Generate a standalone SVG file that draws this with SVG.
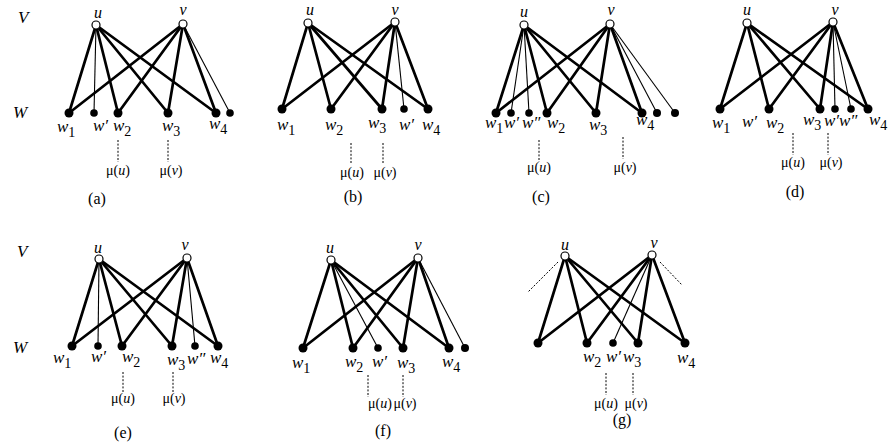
<svg xmlns="http://www.w3.org/2000/svg" width="888" height="443" viewBox="0 0 888 443" font-family="Liberation Serif, serif">
<style>
text{fill:#000}
.it{font-style:italic;font-size:17px}
.lbl{font-style:italic;font-size:16px;text-anchor:middle}
.sub{font-style:normal;font-size:14px}
.mu{font-size:14px;text-anchor:middle}
.mu tspan{font-style:italic}
.cap{font-size:16px;text-anchor:middle}
.tk{stroke:#000;stroke-width:2.7;stroke-linecap:round}
.tn{stroke:#000;stroke-width:1.1}
.ds{stroke:#000;stroke-width:1;stroke-dasharray:2 1.6}
.o{fill:#fff;stroke:#000;stroke-width:1.2}
.f{fill:#000}
</style>
<rect width="888" height="443" fill="#fff"/>

<text class="it" x="18" y="23">V</text>
<text class="it" x="13" y="118">W</text>
<text class="it" x="17" y="257">V</text>
<text class="it" x="13" y="353">W</text>

<!-- (a) -->
<g id="panel-a">
<g id="a-edges">
<line class="tk" x1="96" y1="25" x2="69" y2="113"/>
<line class="tn" x1="96" y1="25" x2="94" y2="113"/>
<line class="tk" x1="96" y1="25" x2="118" y2="113"/>
<line class="tk" x1="96" y1="25" x2="168" y2="113"/>
<line class="tk" x1="96" y1="25" x2="216" y2="113"/>
<line class="tk" x1="183" y1="24" x2="69" y2="113"/>
<line class="tk" x1="183" y1="24" x2="118" y2="113"/>
<line class="tk" x1="183" y1="24" x2="168" y2="113"/>
<line class="tk" x1="183" y1="24" x2="216" y2="113"/>
<line class="tn" x1="183" y1="24" x2="230" y2="113"/>
<line class="ds" x1="118" y1="140" x2="118" y2="162"/>
<line class="ds" x1="168" y1="140" x2="168" y2="162"/>
</g>
<g id="a-u"><circle class="o" cx="96" cy="25" r="4"/><text class="lbl" x="98" y="18">u</text></g>
<g id="a-v"><circle class="o" cx="183" cy="24" r="4"/><text class="lbl" x="183" y="15">v</text></g>
<g id="a-w1"><circle class="f" cx="69" cy="113" r="4.5"/><text class="it" x="57" y="132">w<tspan class="sub" dy="5">1</tspan></text></g>
<g id="a-wp"><circle class="f" cx="94" cy="113" r="3.8"/><text class="it" x="93" y="131">w′</text></g>
<g id="a-w2"><circle class="f" cx="118" cy="113" r="4.5"/><text class="it" x="113" y="131">w<tspan class="sub" dy="5">2</tspan></text></g>
<g id="a-w3"><circle class="f" cx="168" cy="113" r="4.5"/><text class="it" x="162" y="131">w<tspan class="sub" dy="5">3</tspan></text></g>
<g id="a-w4"><circle class="f" cx="216" cy="113" r="4.5"/><text class="it" x="209" y="129">w<tspan class="sub" dy="5">4</tspan></text></g>
<g id="a-x"><circle class="f" cx="230" cy="113" r="3.8"/></g>
<text class="mu" x="118" y="175">μ(<tspan>u</tspan>)</text>
<text class="mu" x="171" y="175">μ(<tspan>v</tspan>)</text>
<text class="cap" x="97" y="204">(a)</text>
</g>

<!-- (b) -->
<g id="panel-b">
<g id="b-edges">
<line class="tk" x1="308" y1="23" x2="282" y2="109"/>
<line class="tk" x1="308" y1="23" x2="331" y2="109"/>
<line class="tk" x1="308" y1="23" x2="382" y2="109"/>
<line class="tk" x1="308" y1="23" x2="428" y2="109"/>
<line class="tk" x1="395" y1="22" x2="282" y2="109"/>
<line class="tk" x1="395" y1="22" x2="331" y2="109"/>
<line class="tk" x1="395" y1="22" x2="382" y2="109"/>
<line class="tn" x1="395" y1="22" x2="404" y2="109"/>
<line class="tk" x1="395" y1="22" x2="428" y2="109"/>
<line class="ds" x1="351" y1="143" x2="351" y2="163"/>
<line class="ds" x1="383" y1="143" x2="383" y2="163"/>
</g>
<g id="b-u"><circle class="o" cx="308" cy="23" r="4"/><text class="lbl" x="310" y="15">u</text></g>
<g id="b-v"><circle class="o" cx="395" cy="22" r="4"/><text class="lbl" x="395" y="15">v</text></g>
<g id="b-w1"><circle class="f" cx="282" cy="109" r="4.5"/><text class="it" x="277" y="130">w<tspan class="sub" dy="5">1</tspan></text></g>
<g id="b-w2"><circle class="f" cx="331" cy="109" r="4.5"/><text class="it" x="325" y="130">w<tspan class="sub" dy="5">2</tspan></text></g>
<g id="b-w3"><circle class="f" cx="382" cy="109" r="4.5"/><text class="it" x="368" y="128">w<tspan class="sub" dy="5">3</tspan></text></g>
<g id="b-wp"><circle class="f" cx="404" cy="109" r="3.8"/><text class="it" x="399" y="130">w′</text></g>
<g id="b-w4"><circle class="f" cx="428" cy="109" r="4.5"/><text class="it" x="422" y="130">w<tspan class="sub" dy="5">4</tspan></text></g>
<text class="mu" x="352" y="177">μ(<tspan>u</tspan>)</text>
<text class="mu" x="385" y="177">μ(<tspan>v</tspan>)</text>
<text class="cap" x="353" y="202">(b)</text>
</g>

<!-- (c) -->
<g id="panel-c">
<g id="c-edges">
<line class="tk" x1="524" y1="25" x2="496" y2="113"/>
<line class="tn" x1="524" y1="25" x2="511" y2="113"/>
<line class="tn" x1="524" y1="25" x2="529" y2="113"/>
<line class="tk" x1="524" y1="25" x2="547" y2="113"/>
<line class="tk" x1="524" y1="25" x2="596" y2="113"/>
<line class="tk" x1="524" y1="25" x2="642" y2="113"/>
<line class="tk" x1="610" y1="24" x2="496" y2="113"/>
<line class="tk" x1="610" y1="24" x2="547" y2="113"/>
<line class="tk" x1="610" y1="24" x2="596" y2="113"/>
<line class="tk" x1="610" y1="24" x2="642" y2="113"/>
<line class="tn" x1="610" y1="24" x2="657" y2="113"/>
<line class="tn" x1="610" y1="24" x2="675" y2="113"/>
<line class="ds" x1="539" y1="140" x2="539" y2="162"/>
<line class="ds" x1="623" y1="137" x2="623" y2="159"/>
</g>
<g id="c-u"><circle class="o" cx="524" cy="25" r="4"/><text class="lbl" x="524" y="17">u</text></g>
<g id="c-v"><circle class="o" cx="610" cy="24" r="4"/><text class="lbl" x="611" y="15">v</text></g>
<g id="c-w1"><circle class="f" cx="496" cy="113" r="4.5"/><text class="it" x="485" y="128">w<tspan class="sub" dy="5">1</tspan></text></g>
<g id="c-wp"><circle class="f" cx="511" cy="113" r="3.8"/><text class="it" x="504" y="128">w′</text></g>
<g id="c-wpp"><circle class="f" cx="529" cy="113" r="3.8"/><text class="it" x="522" y="128">w″</text></g>
<g id="c-w2"><circle class="f" cx="547" cy="113" r="4.5"/><text class="it" x="547" y="128">w<tspan class="sub" dy="5">2</tspan></text></g>
<g id="c-w3"><circle class="f" cx="596" cy="113" r="4.5"/><text class="it" x="589" y="130">w<tspan class="sub" dy="5">3</tspan></text></g>
<g id="c-w4"><circle class="f" cx="642" cy="113" r="4.5"/><text class="it" x="636" y="125">w<tspan class="sub" dy="5">4</tspan></text></g>
<g id="c-x1"><circle class="f" cx="657" cy="113" r="4"/></g>
<g id="c-x2"><circle class="f" cx="675" cy="113" r="4"/></g>
<text class="mu" x="539" y="172">μ(<tspan>u</tspan>)</text>
<text class="mu" x="625" y="172">μ(<tspan>v</tspan>)</text>
<text class="cap" x="541" y="202">(c)</text>
</g>

<!-- (d) -->
<g id="panel-d">
<g id="d-edges">
<line class="tk" x1="747" y1="23" x2="720" y2="109"/>
<line class="tk" x1="747" y1="23" x2="769" y2="109"/>
<line class="tk" x1="747" y1="23" x2="820" y2="109"/>
<line class="tk" x1="747" y1="23" x2="868" y2="109"/>
<line class="tk" x1="833" y1="22" x2="720" y2="109"/>
<line class="tk" x1="833" y1="22" x2="769" y2="109"/>
<line class="tk" x1="833" y1="22" x2="820" y2="109"/>
<line class="tn" x1="833" y1="22" x2="835" y2="109"/>
<line class="tn" x1="833" y1="22" x2="851" y2="109"/>
<line class="tk" x1="833" y1="22" x2="868" y2="109"/>
<line class="ds" x1="793" y1="133" x2="793" y2="155"/>
<line class="ds" x1="828" y1="133" x2="828" y2="155"/>
</g>
<g id="d-u"><circle class="o" cx="747" cy="23" r="4"/><text class="lbl" x="747" y="15">u</text></g>
<g id="d-v"><circle class="o" cx="833" cy="22" r="4"/><text class="lbl" x="835" y="15">v</text></g>
<g id="d-w1"><circle class="f" cx="720" cy="109" r="4.5"/><text class="it" x="712" y="128">w<tspan class="sub" dy="5">1</tspan></text></g>
<text class="it" x="742" y="127">w′</text>
<g id="d-w2"><circle class="f" cx="769" cy="109" r="4.5"/><text class="it" x="766" y="128">w<tspan class="sub" dy="5">2</tspan></text></g>
<g id="d-w3"><circle class="f" cx="820" cy="109" r="4.5"/><text class="it" x="803" y="125">w<tspan class="sub" dy="5">3</tspan></text></g>
<g id="d-wp"><circle class="f" cx="835" cy="109" r="3.8"/><text class="it" x="824" y="126">w′</text></g>
<g id="d-wpp"><circle class="f" cx="851" cy="109" r="3.8"/><text class="it" x="839" y="126">w″</text></g>
<g id="d-w4"><circle class="f" cx="868" cy="109" r="4.5"/><text class="it" x="869" y="125">w<tspan class="sub" dy="5">4</tspan></text></g>
<text class="mu" x="793" y="167">μ(<tspan>u</tspan>)</text>
<text class="mu" x="831" y="167">μ(<tspan>v</tspan>)</text>
<text class="cap" x="795" y="197">(d)</text>
</g>

<!-- (e) -->
<g id="panel-e">
<g id="e-edges">
<line class="tk" x1="99" y1="259" x2="72" y2="346"/>
<line class="tn" x1="99" y1="259" x2="98" y2="346"/>
<line class="tk" x1="99" y1="259" x2="122" y2="346"/>
<line class="tk" x1="99" y1="259" x2="172" y2="346"/>
<line class="tk" x1="99" y1="259" x2="218" y2="346"/>
<line class="tk" x1="187" y1="258" x2="72" y2="346"/>
<line class="tk" x1="187" y1="258" x2="122" y2="346"/>
<line class="tk" x1="187" y1="258" x2="172" y2="346"/>
<line class="tn" x1="187" y1="258" x2="195" y2="346"/>
<line class="tk" x1="187" y1="258" x2="218" y2="346"/>
<line class="ds" x1="123" y1="372" x2="123" y2="392"/>
<line class="ds" x1="173" y1="372" x2="173" y2="392"/>
</g>
<g id="e-u"><circle class="o" cx="99" cy="259" r="4"/><text class="lbl" x="98" y="253">u</text></g>
<g id="e-v"><circle class="o" cx="187" cy="258" r="4"/><text class="lbl" x="185" y="250">v</text></g>
<g id="e-w1"><circle class="f" cx="72" cy="346" r="4.5"/><text class="it" x="53" y="363">w<tspan class="sub" dy="5">1</tspan></text></g>
<g id="e-wp"><circle class="f" cx="98" cy="346" r="3.8"/><text class="it" x="91" y="362">w′</text></g>
<g id="e-w2"><circle class="f" cx="122" cy="346" r="4.5"/><text class="it" x="122" y="362">w<tspan class="sub" dy="5">2</tspan></text></g>
<g id="e-w3"><circle class="f" cx="172" cy="346" r="4.5"/><text class="it" x="167" y="365">w<tspan class="sub" dy="5">3</tspan></text></g>
<g id="e-wpp"><circle class="f" cx="195" cy="346" r="3.8"/><text class="it" x="187" y="364">w″</text></g>
<g id="e-w4"><circle class="f" cx="218" cy="346" r="4.5"/><text class="it" x="210" y="363">w<tspan class="sub" dy="5">4</tspan></text></g>
<text class="mu" x="123" y="403">μ(<tspan>u</tspan>)</text>
<text class="mu" x="174" y="403">μ(<tspan>v</tspan>)</text>
<text class="cap" x="123" y="438">(e)</text>
</g>

<!-- (f) -->
<g id="panel-f">
<g id="f-edges">
<line class="tk" x1="331" y1="260" x2="303" y2="348"/>
<line class="tk" x1="331" y1="260" x2="353" y2="348"/>
<line class="tn" x1="331" y1="260" x2="378" y2="348"/>
<line class="tk" x1="331" y1="260" x2="403" y2="348"/>
<line class="tk" x1="331" y1="260" x2="449" y2="348"/>
<line class="tk" x1="418" y1="258" x2="303" y2="348"/>
<line class="tk" x1="418" y1="258" x2="353" y2="348"/>
<line class="tk" x1="418" y1="258" x2="403" y2="348"/>
<line class="tk" x1="418" y1="258" x2="449" y2="348"/>
<line class="tn" x1="418" y1="258" x2="465" y2="348"/>
<line class="ds" x1="368" y1="375" x2="368" y2="397"/>
<line class="ds" x1="403" y1="375" x2="403" y2="397"/>
</g>
<g id="f-u"><circle class="o" cx="331" cy="260" r="4"/><text class="lbl" x="330" y="253">u</text></g>
<g id="f-v"><circle class="o" cx="418" cy="258" r="4"/><text class="lbl" x="418" y="250">v</text></g>
<g id="f-w1"><circle class="f" cx="303" cy="348" r="4.5"/><text class="it" x="292" y="368">w<tspan class="sub" dy="5">1</tspan></text></g>
<g id="f-w2"><circle class="f" cx="353" cy="348" r="4.5"/><text class="it" x="345" y="367">w<tspan class="sub" dy="5">2</tspan></text></g>
<g id="f-wp"><circle class="f" cx="378" cy="348" r="3.8"/><text class="it" x="372" y="367">w′</text></g>
<g id="f-w3"><circle class="f" cx="403" cy="348" r="4.5"/><text class="it" x="397" y="368">w<tspan class="sub" dy="5">3</tspan></text></g>
<g id="f-w4"><circle class="f" cx="449" cy="348" r="4.5"/><text class="it" x="442" y="367">w<tspan class="sub" dy="5">4</tspan></text></g>
<g id="f-x"><circle class="f" cx="465" cy="348" r="4"/></g>
<text class="mu" x="380" y="408">μ(<tspan>u</tspan>)</text>
<text class="mu" x="405" y="408">μ(<tspan>v</tspan>)</text>
<text class="cap" x="383" y="436">(f)</text>
</g>

<!-- (g) -->
<g id="panel-g">
<g id="g-edges">
<line class="ds" x1="558" y1="262" x2="528" y2="292"/>
<line class="ds" x1="660" y1="262" x2="682" y2="285"/>
<line class="tk" x1="565" y1="256" x2="538" y2="343"/>
<line class="tk" x1="565" y1="256" x2="587" y2="343"/>
<line class="tk" x1="565" y1="256" x2="638" y2="343"/>
<line class="tk" x1="565" y1="256" x2="685" y2="343"/>
<line class="tk" x1="652" y1="255" x2="538" y2="343"/>
<line class="tk" x1="652" y1="255" x2="587" y2="343"/>
<line class="tn" x1="652" y1="255" x2="613" y2="343"/>
<line class="tk" x1="652" y1="255" x2="638" y2="343"/>
<line class="tk" x1="652" y1="255" x2="685" y2="343"/>
<line class="ds" x1="606" y1="373" x2="606" y2="395"/>
<line class="ds" x1="633" y1="373" x2="633" y2="395"/>
</g>
<g id="g-u"><circle class="o" cx="565" cy="256" r="4"/><text class="lbl" x="565" y="250">u</text></g>
<g id="g-v"><circle class="o" cx="652" cy="255" r="4"/><text class="lbl" x="654" y="248">v</text></g>
<g id="g-w1"><circle class="f" cx="538" cy="343" r="4.5"/></g>
<g id="g-w2"><circle class="f" cx="587" cy="343" r="4.5"/><text class="it" x="583" y="362">w<tspan class="sub" dy="5">2</tspan></text></g>
<g id="g-wp"><circle class="f" cx="613" cy="343" r="3.8"/><text class="it" x="606" y="362">w′</text></g>
<g id="g-w3"><circle class="f" cx="638" cy="343" r="4.5"/><text class="it" x="623" y="362">w<tspan class="sub" dy="5">3</tspan></text></g>
<g id="g-w4"><circle class="f" cx="685" cy="343" r="4.5"/><text class="it" x="677" y="363">w<tspan class="sub" dy="5">4</tspan></text></g>
<text class="mu" x="606" y="408">μ(<tspan>u</tspan>)</text>
<text class="mu" x="636" y="408">μ(<tspan>v</tspan>)</text>
<text class="cap" x="622" y="425">(g)</text>
</g>
</svg>
